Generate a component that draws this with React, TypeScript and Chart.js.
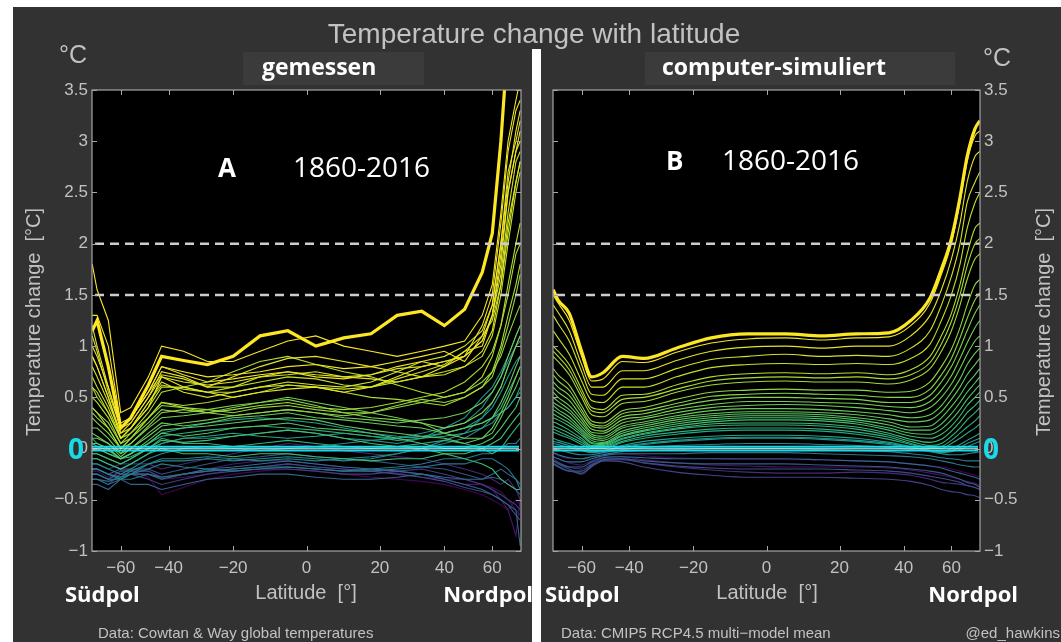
import React, { useEffect, useRef } from 'react';
import { Chart, registerables, LinearScale } from 'chart.js';

// ---------- custom area-weighted latitude scale (sin(lat)) ----------
class SinLatScale extends LinearScale {
  static id = 'sinlat';
  static defaults = LinearScale.defaults;
  getPixelForValue(value: number) {
    if (value === null || value === undefined || isNaN(value)) return NaN;
    const s = Math.sin((value * Math.PI) / 180);
    return this.getPixelForDecimal((s + 1) / 2);
  }
  getValueForPixel(pixel: number) {
    const d = this.getDecimalForPixel(pixel);
    return (Math.asin(Math.max(-1, Math.min(1, d * 2 - 1))) * 180) / Math.PI;
  }
}
Chart.register(...registerables, SinLatScale);
Chart.defaults.font.family = 'Liberation Sans';

// ---------- data ----------
const LAT_TICKS = [-60, -40, -20, 0, 20, 40, 60];
const REF_LEVELS = [2, 1.5];
const Y_MIN = -1;
const Y_MAX = 3.5;

// Panel A: observations (Cowtan & Way), latitude band centres
const OBS_LAT = [-87.5, -77.5, -67.5, -60, -55, -47.5, -42.5, -35, -27.5, -20, -12.5, -5, 2.5, 10, 17.5, 25, 32.5, 40, 47.5, 55, 60, 65, 70, 77.5, 85];
const OBS_2016 = [1.15, 1.25, 0.8, 0.2, 0.3, 0.62, 0.9, 0.86, 0.82, 0.9, 1.1, 1.15, 1.0, 1.08, 1.12, 1.3, 1.34, 1.2, 1.36, 1.72, 2.1, 3.0, 4.0, 4.5, 4.5];
const OBS_2015 = [1.8, 1.55, 1.25, 0.35, 0.4, 0.7, 1.0, 0.95, 0.85, 0.85, 0.95, 1.05, 1.1, 1.0, 0.95, 0.9, 0.95, 1.0, 1.05, 1.3, 1.6, 2.3, 3.0, 3.4, 3.6];
const OBS_2014 = [1.3, 1.3, 1.0, 0.25, 0.3, 0.55, 0.8, 0.75, 0.7, 0.72, 0.75, 0.8, 0.82, 0.78, 0.8, 0.85, 0.9, 0.95, 0.85, 1.1, 1.4, 2.0, 2.6, 3.1, 3.3];
const OBS_2013 = [1.0, 0.9, 0.6, 0.2, 0.3, 0.55, 0.8, 0.72, 0.65, 0.68, 0.72, 0.75, 0.7, 0.68, 0.72, 0.8, 0.85, 0.8, 0.9, 1.05, 1.3, 1.9, 2.5, 2.9, 3.1];
const OBS_2012 = [0.9, 0.8, 0.5, 0.1, 0.2, 0.4, 0.7, 0.6, 0.55, 0.5, 0.55, 0.58, 0.6, 0.55, 0.6, 0.7, 0.8, 0.85, 0.9, 1.2, 1.5, 2.2, 2.9, 3.3, 3.4];
const OBS_2010 = [1.2, 1.0, 0.6, 0.2, 0.25, 0.5, 0.75, 0.7, 0.6, 0.7, 0.8, 0.88, 0.9, 0.85, 0.8, 0.75, 0.7, 0.8, 0.95, 1.0, 1.3, 1.8, 2.5, 2.9, 3.0];
const OBS_2009 = [0.9, 0.8, 0.5, 0.15, 0.25, 0.5, 0.7, 0.65, 0.62, 0.65, 0.7, 0.75, 0.72, 0.7, 0.68, 0.65, 0.7, 0.72, 0.8, 0.95, 1.15, 1.6, 2.2, 2.6, 2.8];
const OBS_2007 = [0.8, 0.7, 0.45, 0.15, 0.2, 0.45, 0.65, 0.55, 0.5, 0.55, 0.6, 0.65, 0.62, 0.6, 0.65, 0.75, 0.85, 0.9, 1.0, 1.15, 1.4, 2.0, 2.7, 3.0, 3.2];
const OBS_2005 = [1.1, 0.95, 0.55, 0.2, 0.3, 0.55, 0.72, 0.68, 0.6, 0.6, 0.7, 0.72, 0.75, 0.7, 0.72, 0.78, 0.8, 0.85, 0.9, 1.05, 1.3, 1.7, 2.3, 2.8, 2.9];
const OBS_2003 = [0.6, 0.55, 0.35, 0.1, 0.2, 0.45, 0.62, 0.58, 0.55, 0.55, 0.6, 0.62, 0.6, 0.58, 0.6, 0.68, 0.75, 0.82, 0.95, 1.1, 1.25, 1.6, 2.1, 2.6, 2.8];
const OBS_2002 = [0.7, 0.6, 0.4, 0.1, 0.2, 0.4, 0.6, 0.6, 0.55, 0.6, 0.65, 0.7, 0.68, 0.62, 0.6, 0.65, 0.7, 0.75, 0.8, 0.9, 1.1, 1.5, 2.0, 2.5, 2.7];
const OBS_1998 = [0.5, 0.45, 0.3, 0.05, 0.15, 0.35, 0.55, 0.6, 0.65, 0.75, 0.85, 0.9, 0.82, 0.75, 0.7, 0.62, 0.55, 0.5, 0.55, 0.7, 0.9, 1.2, 1.6, 2.0, 2.2];
const OBS_1997 = [0.4, 0.35, 0.2, 0.0, 0.1, 0.3, 0.45, 0.42, 0.45, 0.5, 0.55, 0.62, 0.6, 0.55, 0.5, 0.48, 0.45, 0.42, 0.5, 0.6, 0.75, 1.0, 1.3, 1.6, 1.8];
const OBS_1995 = [0.6, 0.5, 0.35, 0.1, 0.15, 0.3, 0.45, 0.4, 0.35, 0.38, 0.42, 0.45, 0.4, 0.38, 0.4, 0.45, 0.5, 0.55, 0.65, 0.8, 0.95, 1.2, 1.5, 1.9, 2.0];
const OBS_1991 = [0.35, 0.3, 0.2, 0.0, 0.05, 0.22, 0.35, 0.38, 0.35, 0.32, 0.35, 0.38, 0.35, 0.32, 0.35, 0.42, 0.48, 0.45, 0.5, 0.6, 0.7, 0.95, 1.2, 1.5, 1.7];
const OBS_1990 = [0.4, 0.35, 0.25, 0.05, 0.1, 0.3, 0.42, 0.4, 0.38, 0.35, 0.4, 0.42, 0.38, 0.35, 0.35, 0.4, 0.45, 0.5, 0.55, 0.65, 0.75, 0.9, 1.1, 1.3, 1.4];
const OBS_1987 = [0.3, 0.25, 0.15, 0.0, 0.1, 0.25, 0.38, 0.35, 0.38, 0.42, 0.45, 0.48, 0.42, 0.35, 0.3, 0.28, 0.25, 0.2, 0.25, 0.35, 0.45, 0.6, 0.8, 1.0, 1.1];
const OBS_1983 = [0.2, 0.2, 0.1, -0.05, 0.05, 0.2, 0.3, 0.32, 0.35, 0.4, 0.45, 0.5, 0.45, 0.4, 0.35, 0.3, 0.25, 0.15, 0.1, 0.1, 0.2, 0.35, 0.5, 0.7, 0.8];
const OBS_1981 = [0.15, 0.12, 0.05, -0.08, 0.0, 0.12, 0.22, 0.25, 0.28, 0.32, 0.35, 0.38, 0.35, 0.3, 0.28, 0.25, 0.28, 0.3, 0.35, 0.45, 0.55, 0.7, 0.9, 1.1, 1.2];
const OBS_1980 = [0.1, 0.1, 0.05, -0.05, 0.0, 0.15, 0.25, 0.22, 0.25, 0.3, 0.32, 0.35, 0.3, 0.28, 0.25, 0.22, 0.2, 0.15, 0.2, 0.25, 0.3, 0.45, 0.6, 0.8, 0.9];
const OBS_1977 = [0.05, 0.05, 0.0, -0.1, -0.05, 0.08, 0.18, 0.2, 0.22, 0.25, 0.28, 0.3, 0.28, 0.22, 0.18, 0.15, 0.12, 0.1, 0.05, 0.1, 0.15, 0.3, 0.45, 0.6, 0.7];
const OBS_1973 = [0.0, 0.0, -0.05, -0.1, -0.05, 0.05, 0.15, 0.12, 0.15, 0.2, 0.22, 0.25, 0.2, 0.18, 0.15, 0.1, 0.05, 0.0, 0.0, 0.05, 0.1, 0.2, 0.3, 0.4, 0.5];
const OBS_1969 = [-0.05, -0.05, -0.1, -0.15, -0.1, 0.0, 0.08, 0.06, 0.08, 0.12, 0.15, 0.18, 0.15, 0.1, 0.05, 0.02, 0.0, -0.05, -0.05, 0.0, 0.05, 0.1, 0.2, 0.3, 0.35];
const OBS_1965 = [-0.1, -0.1, -0.15, -0.2, -0.15, -0.05, 0.0, -0.05, -0.05, -0.08, -0.05, -0.05, -0.08, -0.1, -0.12, -0.1, -0.1, -0.05, -0.1, -0.15, -0.2, -0.3, -0.35, -0.4, -0.4];
const OBS_1960 = [0.0, 0.0, -0.05, -0.1, -0.08, 0.0, 0.1, 0.05, 0.05, 0.02, 0.05, 0.08, 0.05, 0.02, 0.0, 0.02, 0.05, 0.08, 0.05, 0.0, -0.05, 0.0, 0.1, 0.2, 0.25];
const OBS_1958 = [0.05, 0.02, -0.02, -0.1, -0.05, 0.05, 0.12, 0.15, 0.18, 0.2, 0.22, 0.2, 0.18, 0.15, 0.12, 0.08, 0.1, 0.12, 0.15, 0.2, 0.3, 0.4, 0.55, 0.7, 0.8];
const OBS_1953 = [-0.05, -0.05, -0.1, -0.15, -0.1, 0.0, 0.05, 0.1, 0.12, 0.15, 0.12, 0.1, 0.12, 0.15, 0.12, 0.1, 0.12, 0.15, 0.2, 0.25, 0.3, 0.35, 0.4, 0.5, 0.6];
const OBS_1944 = [0.1, 0.05, 0.0, -0.1, -0.05, 0.05, 0.15, 0.2, 0.25, 0.28, 0.3, 0.28, 0.25, 0.2, 0.15, 0.12, 0.1, 0.15, 0.2, 0.3, 0.4, 0.55, 0.7, 0.85, 0.9];
const OBS_1940 = [-0.1, -0.1, -0.15, -0.2, -0.15, -0.05, 0.05, 0.1, 0.1, 0.12, 0.15, 0.18, 0.15, 0.1, 0.08, 0.05, 0.1, 0.2, 0.3, 0.5, 0.6, 0.75, 0.9, 1.1, 1.2];
const OBS_1938 = [-0.15, -0.15, -0.2, -0.25, -0.2, -0.1, -0.05, 0.0, 0.02, 0.0, -0.02, 0.0, 0.02, 0.05, 0.08, 0.1, 0.15, 0.2, 0.25, 0.4, 0.55, 0.7, 0.85, 1.0, 1.05];
const OBS_1934 = [-0.2, -0.2, -0.25, -0.28, -0.22, -0.15, -0.12, -0.12, -0.1, -0.12, -0.1, -0.08, -0.1, -0.12, -0.1, -0.05, 0.0, 0.08, 0.15, 0.3, 0.45, 0.6, 0.8, 1.0, 1.1];
const OBS_1930 = [-0.2, -0.2, -0.25, -0.3, -0.25, -0.15, -0.1, -0.1, -0.08, -0.1, -0.12, -0.1, -0.12, -0.1, -0.08, -0.05, 0.0, 0.05, 0.1, 0.2, 0.25, 0.35, 0.4, 0.5, 0.55];
const OBS_1925 = [-0.25, -0.25, -0.3, -0.3, -0.25, -0.2, -0.15, -0.18, -0.2, -0.22, -0.2, -0.18, -0.2, -0.22, -0.2, -0.18, -0.15, -0.1, -0.1, -0.05, -0.05, 0.0, 0.05, 0.05, 0.1];
const OBS_1920 = [-0.3, -0.3, -0.32, -0.28, -0.25, -0.25, -0.28, -0.25, -0.22, -0.2, -0.18, -0.18, -0.2, -0.22, -0.22, -0.2, -0.18, -0.15, -0.15, -0.1, -0.1, -0.15, -0.2, -0.3, -0.4];
const OBS_1915 = [-0.3, -0.3, -0.35, -0.3, -0.3, -0.25, -0.3, -0.25, -0.2, -0.18, -0.15, -0.12, -0.15, -0.18, -0.2, -0.22, -0.25, -0.28, -0.3, -0.3, -0.25, -0.2, -0.25, -0.3, -0.35];
const OBS_1909 = [-0.35, -0.35, -0.4, -0.3, -0.35, -0.35, -0.4, -0.35, -0.3, -0.28, -0.25, -0.25, -0.28, -0.3, -0.3, -0.28, -0.25, -0.3, -0.35, -0.4, -0.45, -0.5, -0.55, -0.6, -0.95];
const OBS_1900 = [-0.2, -0.2, -0.25, -0.2, -0.2, -0.2, -0.25, -0.2, -0.15, -0.1, -0.08, -0.05, -0.08, -0.1, -0.12, -0.15, -0.18, -0.2, -0.25, -0.3, -0.28, -0.3, -0.35, -0.4, -0.45];
const OBS_1895 = [-0.25, -0.25, -0.3, -0.22, -0.22, -0.22, -0.28, -0.25, -0.22, -0.2, -0.18, -0.15, -0.18, -0.2, -0.22, -0.25, -0.28, -0.32, -0.38, -0.42, -0.45, -0.5, -0.55, -0.65, -0.7];
const OBS_1889 = [-0.3, -0.3, -0.35, -0.25, -0.25, -0.3, -0.35, -0.3, -0.25, -0.22, -0.2, -0.2, -0.22, -0.25, -0.25, -0.22, -0.2, -0.25, -0.3, -0.35, -0.4, -0.45, -0.5, -0.55, -0.6];
const OBS_1878 = [-0.15, -0.15, -0.2, -0.15, -0.15, -0.15, -0.2, -0.15, -0.1, -0.05, 0.0, 0.05, 0.02, -0.02, -0.05, -0.08, -0.1, -0.15, -0.2, -0.25, -0.3, -0.35, -0.3, -0.4, -0.5];
const OBS_1870 = [-0.25, -0.25, -0.3, -0.25, -0.25, -0.25, -0.3, -0.25, -0.2, -0.15, -0.12, -0.12, -0.15, -0.18, -0.2, -0.22, -0.25, -0.3, -0.35, -0.35, -0.4, -0.5, -0.6, -0.85, -0.5];
const OBS_1866 = [-0.22, -0.22, -0.28, -0.22, -0.2, -0.22, -0.3, -0.28, -0.25, -0.2, -0.18, -0.15, -0.18, -0.2, -0.22, -0.24, -0.28, -0.3, -0.3, -0.35, -0.38, -0.42, -0.5, -0.6, -0.65];
const OBS_1862 = [-0.2, -0.2, -0.25, -0.2, -0.22, -0.28, -0.45, -0.38, -0.3, -0.25, -0.22, -0.2, -0.22, -0.25, -0.28, -0.3, -0.32, -0.35, -0.4, -0.45, -0.5, -0.55, -0.6, -0.5, -0.55];

const OBS_YEARS = [2016, 2015, 2014, 2013, 2012, 2010, 2009, 2007, 2005, 2003, 2002, 1998, 1997, 1995, 1991, 1990, 1987, 1983, 1981, 1980, 1977, 1973, 1969, 1965, 1960, 1958, 1953, 1944, 1940, 1938, 1934, 1930, 1925, 1920, 1915, 1909, 1900, 1895, 1889, 1878, 1870, 1866, 1862];
const OBS_VALUES = [OBS_2016, OBS_2015, OBS_2014, OBS_2013, OBS_2012, OBS_2010, OBS_2009, OBS_2007, OBS_2005, OBS_2003, OBS_2002, OBS_1998, OBS_1997, OBS_1995, OBS_1991, OBS_1990, OBS_1987, OBS_1983, OBS_1981, OBS_1980, OBS_1977, OBS_1973, OBS_1969, OBS_1965, OBS_1960, OBS_1958, OBS_1953, OBS_1944, OBS_1940, OBS_1938, OBS_1934, OBS_1930, OBS_1925, OBS_1920, OBS_1915, OBS_1909, OBS_1900, OBS_1895, OBS_1889, OBS_1878, OBS_1870, OBS_1866, OBS_1862];

// Panel B: CMIP5 RCP4.5 multi-model mean
const MOD_LAT = [-87.5, -77.5, -67.5, -60, -55, -50, -42.5, -35, -25, -15, -5, 5, 15, 25, 35, 42.5, 50, 55, 60, 65, 70, 77.5, 87.5];
const MOD_2016 = [1.55, 1.45, 1.32, 0.95, 0.7, 0.74, 0.9, 0.88, 0.98, 1.08, 1.12, 1.12, 1.1, 1.12, 1.13, 1.25, 1.47, 1.75, 2.05, 2.45, 2.85, 3.12, 3.2];
const MOD_2014 = [1.5, 1.42, 1.25, 0.9, 0.66, 0.68, 0.85, 0.84, 0.94, 1.03, 1.07, 1.08, 1.06, 1.08, 1.09, 1.2, 1.42, 1.7, 2.0, 2.4, 2.8, 3.05, 3.1];
const MOD_2010 = [1.4, 1.33, 1.15, 0.82, 0.6, 0.6, 0.76, 0.76, 0.86, 0.95, 0.99, 1.0, 0.98, 1.0, 1.0, 1.1, 1.3, 1.55, 1.85, 2.2, 2.6, 2.85, 2.9];
const MOD_2006 = [1.3, 1.22, 1.05, 0.75, 0.53, 0.52, 0.68, 0.68, 0.78, 0.87, 0.9, 0.92, 0.9, 0.91, 0.9, 0.98, 1.15, 1.4, 1.68, 2.0, 2.4, 2.6, 2.7];
const MOD_2002 = [1.15, 1.08, 0.92, 0.66, 0.47, 0.45, 0.6, 0.6, 0.7, 0.79, 0.82, 0.83, 0.82, 0.83, 0.82, 0.88, 1.02, 1.25, 1.5, 1.8, 2.15, 2.4, 2.5];
const MOD_1998 = [1.0, 0.95, 0.82, 0.58, 0.4, 0.38, 0.52, 0.53, 0.62, 0.7, 0.73, 0.74, 0.73, 0.74, 0.72, 0.77, 0.9, 1.1, 1.32, 1.6, 1.9, 2.15, 2.2];
const MOD_1996 = [0.95, 0.9, 0.77, 0.54, 0.37, 0.35, 0.48, 0.5, 0.58, 0.66, 0.69, 0.7, 0.69, 0.7, 0.68, 0.72, 0.84, 1.02, 1.24, 1.5, 1.78, 2.0, 2.05];
const MOD_1994 = [0.9, 0.85, 0.72, 0.5, 0.33, 0.31, 0.44, 0.46, 0.55, 0.62, 0.65, 0.66, 0.65, 0.65, 0.63, 0.67, 0.78, 0.95, 1.15, 1.4, 1.65, 1.85, 1.9];
const MOD_1990 = [0.78, 0.72, 0.62, 0.42, 0.27, 0.25, 0.37, 0.4, 0.48, 0.55, 0.57, 0.58, 0.57, 0.57, 0.55, 0.56, 0.65, 0.8, 0.97, 1.18, 1.4, 1.6, 1.65];
const MOD_1988 = [0.72, 0.66, 0.57, 0.38, 0.24, 0.22, 0.34, 0.37, 0.44, 0.51, 0.53, 0.54, 0.53, 0.52, 0.5, 0.5, 0.58, 0.72, 0.88, 1.08, 1.27, 1.45, 1.52];
const MOD_1986 = [0.65, 0.6, 0.52, 0.35, 0.22, 0.2, 0.31, 0.34, 0.41, 0.47, 0.5, 0.5, 0.49, 0.48, 0.45, 0.45, 0.52, 0.65, 0.8, 0.98, 1.15, 1.32, 1.4];
const MOD_1984 = [0.6, 0.55, 0.47, 0.31, 0.19, 0.17, 0.28, 0.31, 0.38, 0.43, 0.46, 0.46, 0.45, 0.44, 0.41, 0.4, 0.46, 0.57, 0.71, 0.88, 1.03, 1.18, 1.25];
const MOD_1982 = [0.55, 0.5, 0.42, 0.28, 0.16, 0.15, 0.25, 0.29, 0.35, 0.4, 0.42, 0.43, 0.42, 0.4, 0.37, 0.35, 0.4, 0.5, 0.63, 0.78, 0.92, 1.05, 1.1];
const MOD_1980 = [0.5, 0.46, 0.38, 0.25, 0.14, 0.12, 0.22, 0.26, 0.32, 0.37, 0.39, 0.39, 0.38, 0.36, 0.33, 0.3, 0.33, 0.42, 0.55, 0.68, 0.82, 0.93, 0.98];
const MOD_1978 = [0.45, 0.42, 0.35, 0.22, 0.12, 0.1, 0.2, 0.24, 0.3, 0.34, 0.36, 0.36, 0.35, 0.33, 0.29, 0.26, 0.28, 0.36, 0.48, 0.6, 0.72, 0.82, 0.88];
const MOD_1976 = [0.42, 0.38, 0.31, 0.19, 0.1, 0.08, 0.17, 0.22, 0.28, 0.32, 0.34, 0.34, 0.33, 0.3, 0.26, 0.21, 0.22, 0.3, 0.41, 0.52, 0.63, 0.72, 0.78];
const MOD_1974 = [0.38, 0.35, 0.28, 0.17, 0.08, 0.06, 0.15, 0.2, 0.26, 0.3, 0.32, 0.32, 0.31, 0.28, 0.23, 0.18, 0.18, 0.24, 0.34, 0.45, 0.55, 0.64, 0.7];
const MOD_1971 = [0.34, 0.31, 0.25, 0.15, 0.06, 0.05, 0.13, 0.18, 0.24, 0.28, 0.3, 0.3, 0.29, 0.26, 0.2, 0.15, 0.14, 0.19, 0.28, 0.38, 0.48, 0.57, 0.62];
const MOD_1968 = [0.3, 0.28, 0.22, 0.13, 0.05, 0.04, 0.12, 0.17, 0.22, 0.26, 0.28, 0.28, 0.27, 0.24, 0.18, 0.12, 0.1, 0.14, 0.22, 0.32, 0.42, 0.5, 0.55];
const MOD_1965 = [0.26, 0.24, 0.18, 0.1, 0.03, 0.03, 0.1, 0.15, 0.2, 0.24, 0.25, 0.25, 0.24, 0.21, 0.15, 0.09, 0.06, 0.09, 0.17, 0.26, 0.35, 0.42, 0.47];
const MOD_1962 = [0.22, 0.2, 0.15, 0.08, 0.02, 0.02, 0.09, 0.14, 0.19, 0.22, 0.23, 0.23, 0.22, 0.19, 0.13, 0.07, 0.03, 0.05, 0.12, 0.2, 0.28, 0.35, 0.4];
const MOD_1958 = [0.19, 0.17, 0.12, 0.06, 0.01, 0.01, 0.07, 0.12, 0.16, 0.19, 0.2, 0.2, 0.19, 0.16, 0.11, 0.05, 0.01, 0.02, 0.08, 0.15, 0.21, 0.27, 0.32];
const MOD_1955 = [0.16, 0.14, 0.1, 0.04, 0.0, 0.0, 0.06, 0.1, 0.14, 0.17, 0.18, 0.18, 0.17, 0.14, 0.09, 0.04, 0.0, 0.0, 0.05, 0.1, 0.15, 0.2, 0.24];
const MOD_1948 = [0.1, 0.08, 0.05, 0.01, -0.02, -0.02, 0.03, 0.07, 0.1, 0.12, 0.13, 0.13, 0.12, 0.1, 0.06, 0.02, -0.02, -0.03, 0.0, 0.04, 0.08, 0.12, 0.15];
const MOD_1944 = [0.07, 0.06, 0.03, -0.01, -0.03, -0.02, 0.02, 0.05, 0.08, 0.1, 0.11, 0.11, 0.1, 0.08, 0.05, 0.01, -0.02, -0.04, -0.02, 0.01, 0.05, 0.08, 0.1];
const MOD_1940 = [0.05, 0.04, 0.01, -0.02, -0.04, -0.03, 0.01, 0.04, 0.07, 0.09, 0.1, 0.1, 0.09, 0.07, 0.04, 0.01, -0.02, -0.04, -0.03, -0.01, 0.02, 0.05, 0.07];
const MOD_1930 = [0.0, -0.01, -0.04, -0.06, -0.06, -0.04, -0.01, 0.01, 0.03, 0.04, 0.05, 0.05, 0.04, 0.03, 0.01, -0.01, -0.03, -0.05, -0.06, -0.06, -0.05, -0.04, -0.03];
const MOD_1925 = [-0.04, -0.06, -0.09, -0.1, -0.08, -0.06, -0.03, -0.02, -0.01, 0.0, 0.0, 0.0, -0.01, -0.02, -0.03, -0.05, -0.07, -0.09, -0.1, -0.11, -0.12, -0.12, -0.12];
const MOD_1920 = [-0.08, -0.1, -0.13, -0.13, -0.1, -0.07, -0.05, -0.05, -0.05, -0.04, -0.04, -0.04, -0.05, -0.06, -0.07, -0.08, -0.1, -0.12, -0.14, -0.16, -0.17, -0.18, -0.18];
const MOD_1912 = [-0.12, -0.14, -0.18, -0.18, -0.13, -0.09, -0.08, -0.09, -0.1, -0.1, -0.1, -0.1, -0.11, -0.12, -0.13, -0.15, -0.17, -0.19, -0.22, -0.24, -0.26, -0.28, -0.3];
const MOD_1902 = [-0.15, -0.18, -0.22, -0.22, -0.16, -0.11, -0.1, -0.12, -0.14, -0.15, -0.15, -0.15, -0.16, -0.17, -0.18, -0.2, -0.22, -0.24, -0.27, -0.3, -0.33, -0.35, -0.38];
const MOD_1896 = [-0.14, -0.17, -0.22, -0.24, -0.17, -0.12, -0.11, -0.14, -0.17, -0.19, -0.2, -0.2, -0.2, -0.21, -0.22, -0.24, -0.27, -0.29, -0.31, -0.33, -0.36, -0.38, -0.4];
const MOD_1890 = [-0.12, -0.15, -0.2, -0.25, -0.18, -0.12, -0.13, -0.18, -0.23, -0.26, -0.28, -0.28, -0.28, -0.29, -0.3, -0.32, -0.36, -0.4, -0.42, -0.43, -0.45, -0.46, -0.48];
const MOD_1880 = [-0.1, -0.13, -0.18, -0.2, -0.15, -0.1, -0.1, -0.14, -0.18, -0.21, -0.23, -0.24, -0.24, -0.23, -0.24, -0.26, -0.3, -0.33, -0.34, -0.35, -0.36, -0.38, -0.4];
const MOD_1868 = [-0.08, -0.1, -0.14, -0.16, -0.12, -0.08, -0.08, -0.11, -0.14, -0.16, -0.17, -0.18, -0.18, -0.18, -0.19, -0.21, -0.24, -0.26, -0.28, -0.3, -0.32, -0.34, -0.36];
const MOD_1860 = [-0.05, -0.07, -0.1, -0.1, -0.08, -0.05, -0.05, -0.07, -0.09, -0.1, -0.11, -0.11, -0.11, -0.12, -0.13, -0.15, -0.17, -0.18, -0.2, -0.22, -0.24, -0.26, -0.28];

const MOD_YEARS = [2016, 2014, 2010, 2006, 2002, 1998, 1996, 1994, 1990, 1988, 1986, 1984, 1982, 1980, 1978, 1976, 1974, 1971, 1968, 1965, 1962, 1958, 1955, 1948, 1944, 1940, 1930, 1925, 1920, 1912, 1902, 1896, 1890, 1880, 1868, 1860];
const MOD_VALUES = [MOD_2016, MOD_2014, MOD_2010, MOD_2006, MOD_2002, MOD_1998, MOD_1996, MOD_1994, MOD_1990, MOD_1988, MOD_1986, MOD_1984, MOD_1982, MOD_1980, MOD_1978, MOD_1976, MOD_1974, MOD_1971, MOD_1968, MOD_1965, MOD_1962, MOD_1958, MOD_1955, MOD_1948, MOD_1944, MOD_1940, MOD_1930, MOD_1925, MOD_1920, MOD_1912, MOD_1902, MOD_1896, MOD_1890, MOD_1880, MOD_1868, MOD_1860];

// ---------- styling ----------
const BG = '#323232';
const TEXT = '#c2c2c2';
const CYAN = '#19dbe8';
const VIRIDIS = ['#440154', '#482475', '#414487', '#355f8d', '#2a788e', '#21918c', '#22a884', '#44bf70', '#7ad151', '#bddf26', '#fde725'];

function hexToRgb(h: string) {
  const n = parseInt(h.slice(1), 16);
  return [(n >> 16) & 255, (n >> 8) & 255, n & 255];
}
function viridis(t: number) {
  const c = Math.max(0, Math.min(1, t)) * (VIRIDIS.length - 1);
  const i = Math.min(VIRIDIS.length - 2, Math.floor(c));
  const f = c - i;
  const a = hexToRgb(VIRIDIS[i]);
  const b = hexToRgb(VIRIDIS[i + 1]);
  const m = a.map((v, k) => Math.round(v + (b[k] - v) * f));
  return `rgb(${m[0]},${m[1]},${m[2]})`;
}
const fmtNum = (v: number) => {
  const r = Number(Number(v).toFixed(2));
  return r < 0 ? '\u2212' + String(-r) : String(r);
};

type Side = 'left' | 'right';

function decorPlugin(side: Side) {
  return {
    id: 'decor_' + side,
    beforeDatasetsDraw(chart: any) {
      const { ctx, chartArea: a } = chart;
      ctx.save();
      ctx.fillStyle = '#000';
      ctx.fillRect(a.left, a.top, a.right - a.left, a.bottom - a.top);
      ctx.restore();
    },
    afterDatasetsDraw(chart: any) {
      const { ctx, chartArea: a } = chart;
      const y = chart.scales.y;
      ctx.save();
      ctx.beginPath();
      ctx.rect(a.left, a.top, a.right - a.left, a.bottom - a.top);
      ctx.clip();
      ctx.setLineDash([9, 6]);
      ctx.lineWidth = 2.5;
      ctx.strokeStyle = '#cdcdcd';
      REF_LEVELS.forEach((v) => {
        const py = y.getPixelForValue(v);
        ctx.beginPath();
        ctx.moveTo(a.left + 3, py);
        ctx.lineTo(a.right, py);
        ctx.stroke();
      });
      ctx.setLineDash([]);
      const y0 = y.getPixelForValue(0);
      ctx.strokeStyle = CYAN;
      ctx.lineWidth = 2;
      [-1.9, 1.9].forEach((o) => {
        ctx.beginPath();
        ctx.moveTo(a.left, y0 + o);
        ctx.lineTo(a.right - 2, y0 + o);
        ctx.stroke();
      });
      ctx.strokeStyle = 'rgba(200,230,235,0.8)';
      ctx.lineWidth = 1.2;
      ctx.beginPath();
      ctx.moveTo(a.left, y0);
      ctx.lineTo(a.right - 2, y0);
      ctx.stroke();
      ctx.restore();
    },
    afterDraw(chart: any) {
      const { ctx, chartArea: a } = chart;
      const x = chart.scales.x;
      const y = chart.scales.y;
      ctx.save();
      ctx.strokeStyle = '#a6a6a6';
      ctx.lineWidth = 1.2;
      ctx.strokeRect(a.left, a.top, a.right - a.left, a.bottom - a.top);
      ctx.lineWidth = 1;
      const tl = 5;
      x.ticks.forEach((t: any) => {
        const px = Math.round(x.getPixelForValue(t.value)) + 0.5;
        ctx.beginPath();
        ctx.moveTo(px, a.bottom);
        ctx.lineTo(px, a.bottom - tl);
        ctx.moveTo(px, a.top);
        ctx.lineTo(px, a.top + tl);
        ctx.stroke();
      });
      y.ticks.forEach((t: any) => {
        const py = Math.round(y.getPixelForValue(t.value)) + 0.5;
        ctx.beginPath();
        ctx.moveTo(a.left, py);
        ctx.lineTo(a.left + tl, py);
        ctx.moveTo(a.right, py);
        ctx.lineTo(a.right - tl, py);
        ctx.stroke();
      });
      ctx.restore();
    },
  };
}

function buildConfig(side: Side): any {
  const lat = side === 'left' ? OBS_LAT : MOD_LAT;
  const years = side === 'left' ? OBS_YEARS : MOD_YEARS;
  const values = side === 'left' ? OBS_VALUES : MOD_VALUES;
  // newest first: Chart.js paints dataset 0 last (on top)
  const order = years.map((_, i) => i).sort((p, q) => years[q] - years[p]);
  const datasets = order.map((i) => ({
    data: lat.map((l, j) => ({ x: l, y: values[i][j] })),
    borderColor: viridis((years[i] - 1860) / 156),
    borderWidth: years[i] === 2016 ? 3.2 : 1.1,
    pointRadius: 0,
    fill: false,
    tension: side === 'left' ? 0 : 0.35,
    cubicInterpolationMode: side === 'left' ? 'default' : 'monotone',
  }));
  const tickFont = { family: 'Liberation Sans', size: 17 };
  const padding =
    side === 'left'
      ? { left: 42, right: 540, top: 90, bottom: 61 }
      : { left: 553, right: 31, top: 90, bottom: 61 };
  return {
    type: 'line',
    data: { datasets },
    options: {
      animation: false,
      responsive: false,
      maintainAspectRatio: false,
      events: [],
      layout: { padding },
      plugins: { legend: { display: false }, tooltip: { enabled: false }, title: { display: false } },
      scales: {
        x: {
          type: 'sinlat',
          min: -90,
          max: 90,
          afterBuildTicks: (s: any) => {
            s.ticks = LAT_TICKS.map((v) => ({ value: v }));
          },
          afterFit: (s: any) => {
            s.height = 30;
          },
          grid: { display: false, drawTicks: false },
          border: { display: false },
          ticks: {
            autoSkip: false,
            maxRotation: 0,
            minRotation: 0,
            padding: 7,
            color: TEXT,
            font: tickFont,
            callback: (v: any) => fmtNum(v),
          },
        },
        y: {
          type: 'linear',
          position: side === 'left' ? 'left' : 'right',
          min: Y_MIN,
          max: Y_MAX,
          afterFit: (s: any) => {
            s.width = 50;
          },
          grid: { display: false, drawTicks: false },
          border: { display: false },
          ticks: {
            stepSize: 0.5,
            padding: 4,
            color: TEXT,
            font: tickFont,
            callback: (v: any) => fmtNum(v),
          },
        },
      },
    },
    plugins: [decorPlugin(side)],
  };
}

const HELV = 'Liberation Sans, Arial, sans-serif';
const CAL = 'Open Sans, Lato, sans-serif';

export default function App() {
  const leftRef = useRef<HTMLCanvasElement>(null);
  const rightRef = useRef<HTMLCanvasElement>(null);
  useEffect(() => {
    const c1 = new Chart(leftRef.current as HTMLCanvasElement, buildConfig('left'));
    const c2 = new Chart(rightRef.current as HTMLCanvasElement, buildConfig('right'));
    return () => {
      c1.destroy();
      c2.destroy();
    };
  }, []);
  const abs: React.CSSProperties = { position: 'absolute', left: 0, top: 0, width: 1061, height: 642 };
  return (
    <div style={{ position: 'fixed', left: 0, top: 0, width: 1061, height: 642, background: BG, overflow: 'hidden' }}>
      <div style={{ position: 'absolute', left: 0, top: 0, width: 1061, height: 7, background: '#fff' }} />
      <div style={{ position: 'absolute', left: 0, top: 0, width: 13, height: 642, background: '#fff' }} />
      <div style={{ position: 'absolute', left: 532, top: 49, width: 9, height: 593, background: '#fff' }} />
      <div style={{ position: 'absolute', left: 243, top: 52, width: 181, height: 33, background: '#3b3b3b' }} />
      <div style={{ position: 'absolute', left: 645, top: 52, width: 310, height: 33, background: '#3b3b3b' }} />
      <canvas ref={leftRef} width={1061} height={642} style={abs} />
      <canvas ref={rightRef} width={1061} height={642} style={abs} />
      <svg width={1061} height={642} style={{ ...abs, pointerEvents: 'none' }}>
        <text x={534} y={43} textAnchor="middle" fontFamily={HELV} fontSize={28} fill={TEXT}>
          Temperature change with latitude
        </text>
        <text x={59} y={63} fontFamily={HELV} fontSize={25} fill={TEXT}>°C</text>
        <text x={983} y={66} fontFamily={HELV} fontSize={25} fill={TEXT}>°C</text>
        <text x={262} y={75} fontFamily={CAL} fontSize={23} fontWeight="bold" fill="#fff">gemessen</text>
        <text x={662} y={75} fontFamily={CAL} fontSize={23} fontWeight="bold" fill="#fff">computer-simuliert</text>

        <text x={218} y={177} fontFamily={CAL} fontSize={26} fontWeight="bold" fill="#fff">A</text>
        <text x={293} y={177} fontFamily={CAL} fontSize={28} fill="#fff">1860-2016</text>
        <text x={666} y={170} fontFamily={CAL} fontSize={26} fontWeight="bold" fill="#fff">B</text>
        <text x={722} y={170} fontFamily={CAL} fontSize={28} fill="#fff">1860-2016</text>

        <text x={76} y={459} textAnchor="middle" fontFamily={CAL} fontSize={28} fontWeight="bold" fill={CYAN}>0</text>
        <text x={991} y={459} textAnchor="middle" fontFamily={CAL} fontSize={28} fontWeight="bold" fill={CYAN}>0</text>

        <text transform="translate(40,322) rotate(-90)" textAnchor="middle" fontFamily={HELV} fontSize={20} fill={TEXT} style={{ whiteSpace: 'pre' }}>
          {'Temperature change  [°C]'}
        </text>
        <text transform="translate(1050,322) rotate(-90)" textAnchor="middle" fontFamily={HELV} fontSize={20} fill={TEXT} style={{ whiteSpace: 'pre' }}>
          {'Temperature change  [°C]'}
        </text>

        <text x={306} y={599} textAnchor="middle" fontFamily={HELV} fontSize={20} fill={TEXT} style={{ whiteSpace: 'pre' }}>
          {'Latitude  [°]'}
        </text>
        <text x={767} y={599} textAnchor="middle" fontFamily={HELV} fontSize={20} fill={TEXT} style={{ whiteSpace: 'pre' }}>
          {'Latitude  [°]'}
        </text>

        <text x={65} y={602} fontFamily={CAL} fontSize={22} fontWeight="bold" fill="#fff">Südpol</text>
        <text x={533} y={602} textAnchor="end" fontFamily={CAL} fontSize={22} fontWeight="bold" fill="#fff">Nordpol</text>
        <text x={545} y={602} fontFamily={CAL} fontSize={22} fontWeight="bold" fill="#fff">Südpol</text>
        <text x={1018} y={602} textAnchor="end" fontFamily={CAL} fontSize={22} fontWeight="bold" fill="#fff">Nordpol</text>

        <text x={98} y={638} fontFamily={HELV} fontSize={15} fill={TEXT}>Data: Cowtan &amp; Way global temperatures</text>
        <text x={561} y={638} fontFamily={HELV} fontSize={15} fill={TEXT}>Data: CMIP5 RCP4.5 multi{'\u2212'}model mean</text>
        <text x={1060} y={638} textAnchor="end" fontFamily={HELV} fontSize={15} fill={TEXT}>@ed_hawkins</text>
      </svg>
    </div>
  );
}
